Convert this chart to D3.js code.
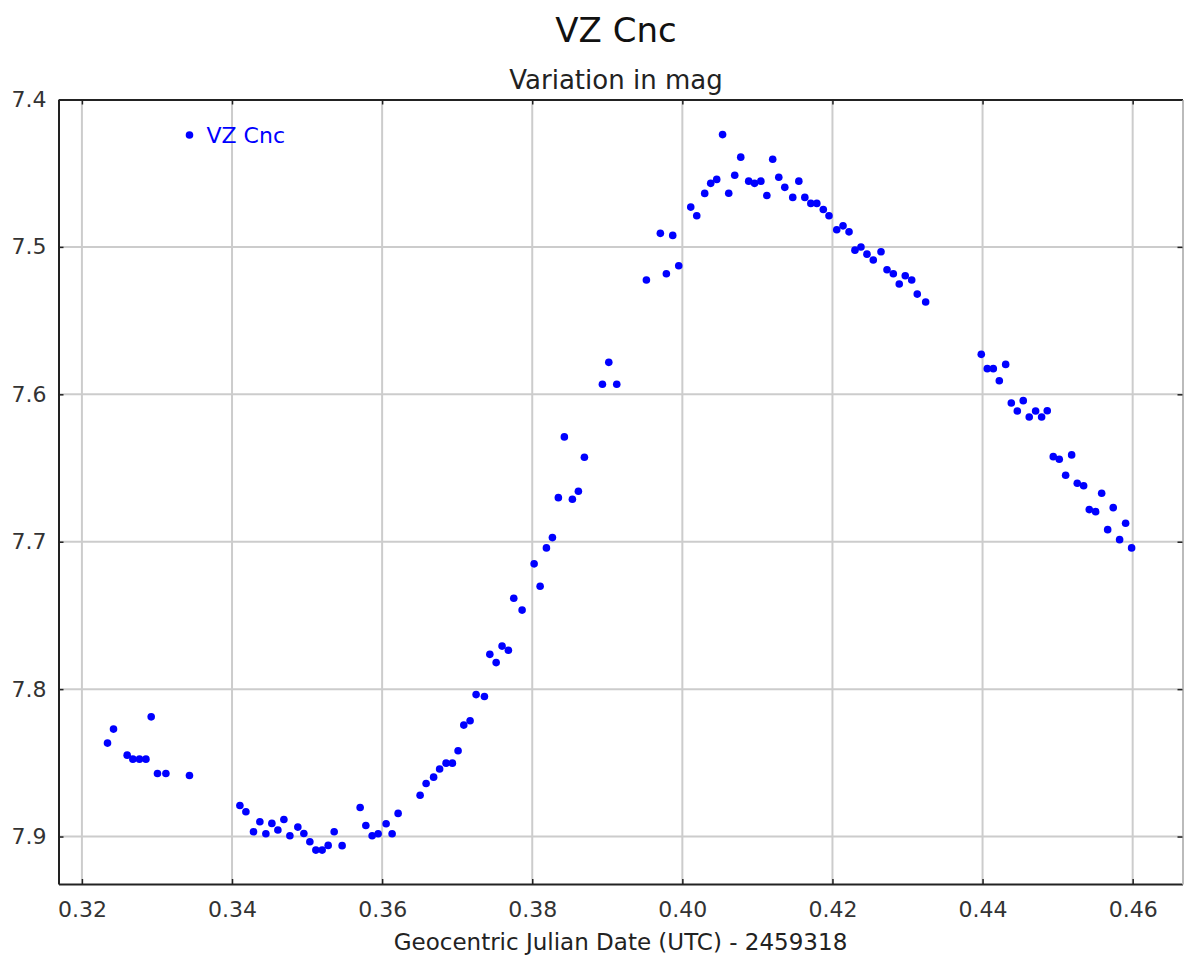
<!DOCTYPE html>
<html>
<head>
<meta charset="utf-8">
<script src="https://cdn.jsdelivr.net/npm/d3@7"></script>
<style>
	body { margin: 0; background: #fff; }
	svg { display: block; font-family: "DejaVu Sans", sans-serif; }
	.grid line { stroke: #cccccc; stroke-width: 2px; }
	.axis path, .axis line { stroke: #222; }
	.axis path { stroke-width: 2px; }
	.axis line { stroke-width: 1.5px; }
	.axis text { fill: #333; font-size: 22px; font-family: "DejaVu Sans", sans-serif; }
	.axis.right path { stroke: #bbbbbb; }
</style>
</head>
<body>
<div id="chart"></div>
<script>
var jd = [
	0.32341, 0.32421, 0.32603, 0.32679, 0.32767, 0.32853, 0.32923, 0.33007, 0.33119, 0.33433,
	0.34105, 0.34185, 0.34286, 0.34371, 0.34451, 0.34531, 0.34611, 0.34691, 0.34771, 0.34877,
	0.34957, 0.35037, 0.35117, 0.35201, 0.35281, 0.35361, 0.35467, 0.35707, 0.35783, 0.35867,
	0.35947, 0.36053, 0.36133, 0.36213, 0.36506, 0.36586, 0.36686, 0.36766, 0.36852, 0.36936,
	0.37012, 0.37088, 0.37172, 0.37252, 0.37363, 0.37435, 0.37519, 0.37598, 0.37682, 0.37754,
	0.37865, 0.38025, 0.38105, 0.38189, 0.38269, 0.38348, 0.38428, 0.38535, 0.38615, 0.38695,
	0.38935, 0.39020, 0.39126, 0.39521, 0.39707, 0.39787, 0.39872, 0.39952, 0.40112, 0.40192,
	0.40298, 0.40378, 0.40458, 0.40536, 0.40618, 0.40698, 0.40778, 0.40884, 0.40962, 0.41046,
	0.41126, 0.41204, 0.41285, 0.41365, 0.41471, 0.41552, 0.41632, 0.41712, 0.41792, 0.41878,
	0.41954, 0.42057, 0.42141, 0.42221, 0.42300, 0.42380, 0.42460, 0.42544, 0.42647, 0.42727,
	0.42811, 0.42890, 0.42970, 0.43056, 0.43130, 0.43242, 0.43983, 0.44063, 0.44143, 0.44223,
	0.44308, 0.44383, 0.44463, 0.44542, 0.44622, 0.44707, 0.44787, 0.44862, 0.44942, 0.45022,
	0.45107, 0.45187, 0.45262, 0.45347, 0.45422, 0.45507, 0.45587, 0.45667, 0.45741, 0.45826,
	0.45906, 0.45986
];
var mag = [
	7.8366, 7.8271, 7.8448, 7.8475, 7.8475, 7.8475, 7.8188, 7.8572, 7.8572, 7.8586,
	7.8789, 7.8832, 7.8968, 7.8900, 7.8981, 7.8911, 7.8956, 7.8884, 7.8995, 7.8936,
	7.8979, 7.9035, 7.9092, 7.9092, 7.9060, 7.8968, 7.9062, 7.8803, 7.8925, 7.8995,
	7.8981, 7.8913, 7.8981, 7.8843, 7.8720, 7.8640, 7.8597, 7.8542, 7.8502, 7.8502,
	7.8418, 7.8244, 7.8215, 7.8037, 7.8050, 7.7764, 7.7820, 7.7708, 7.7736, 7.7383,
	7.7464, 7.7150, 7.7302, 7.7042, 7.6972, 7.6701, 7.6289, 7.6712, 7.6658, 7.6427,
	7.5932, 7.5783, 7.5932, 7.5225, 7.4908, 7.5182, 7.4922, 7.5128, 7.4730, 7.4789,
	7.4637, 7.4569, 7.4542, 7.4238, 7.4636, 7.4514, 7.4391, 7.4554, 7.4569, 7.4554,
	7.4651, 7.4405, 7.4527, 7.4596, 7.4664, 7.4554, 7.4664, 7.4705, 7.4705, 7.4746,
	7.4789, 7.4884, 7.4857, 7.4898, 7.5022, 7.5001, 7.5049, 7.5089, 7.5033, 7.5155,
	7.5182, 7.5252, 7.5196, 7.5225, 7.5320, 7.5374, 7.5729, 7.5826, 7.5826, 7.5908,
	7.5797, 7.6059, 7.6113, 7.6043, 7.6154, 7.6113, 7.6154, 7.6111, 7.6423, 7.6441,
	7.6549, 7.6411, 7.6603, 7.6620, 7.6782, 7.6796, 7.6671, 7.6918, 7.6769, 7.6986,
	7.6875, 7.7042
];

var xTicks = [0.32, 0.34, 0.36, 0.38, 0.40, 0.42, 0.44, 0.46];
var yTicks = [7.4, 7.5, 7.6, 7.7, 7.8, 7.9];

var title = "VZ Cnc";
var subtitle = "Variation in mag";
var xLabel = "Geocentric Julian Date (UTC) - 2459318";
var seriesName = "VZ Cnc";

var width = 1184, height = 956;
var margin = {top: 99.5, right: 1.5, bottom: 72, left: 58.5};
var iw = width - margin.left - margin.right,
	ih = height - margin.top - margin.bottom;

var svg = d3.select('#chart')
	.append('svg')
	.attr('width', width)
	.attr('height', height);

var x = d3.scaleLinear()
	.domain([0.31688, 0.46664])
	.range([0, iw]);
var y = d3.scaleLinear()
	.domain([7.4, 7.9322])
	.range([0, ih]);

var g = svg.append('g')
	.attr('transform', 'translate(' + margin.left + ',' + margin.top + ')');

// grid
var grid = g.append('g').attr('class', 'grid');
grid.selectAll('line.vx')
	.data(xTicks)
	.enter()
	.append('line')
	.attr('class', 'vx')
	.attr('x1', function(d){ return x(d); })
	.attr('x2', function(d){ return x(d); })
	.attr('y1', 0)
	.attr('y2', ih);
grid.selectAll('line.hy')
	.data(yTicks.slice(1))
	.enter()
	.append('line')
	.attr('class', 'hy')
	.attr('x1', 0)
	.attr('x2', iw)
	.attr('y1', function(d){ return y(d); })
	.attr('y2', function(d){ return y(d); });

// axes, ticks point inward
g.append('g')
	.attr('class', 'axis')
	.attr('transform', 'translate(0,' + ih + ')')
	.call(d3.axisBottom(x).tickValues(xTicks).tickFormat(d3.format('.2f'))
		.tickSizeInner(-5).tickSizeOuter(0).tickPadding(17));
g.append('g')
	.attr('class', 'axis')
	.call(d3.axisTop(x).tickValues(xTicks).tickFormat('')
		.tickSizeInner(-5).tickSizeOuter(0));
g.append('g')
	.attr('class', 'axis')
	.call(d3.axisLeft(y).tickValues(yTicks).tickFormat(d3.format('.1f'))
		.tickSizeInner(-5).tickSizeOuter(0).tickPadding(12));
g.append('g')
	.attr('class', 'axis right')
	.attr('transform', 'translate(' + iw + ',0)')
	.call(d3.axisRight(y).tickValues(yTicks).tickFormat('')
		.tickSizeInner(-5).tickSizeOuter(0));

// points
g.append('g')
	.selectAll('circle')
	.data(d3.range(jd.length))
	.enter()
	.append('circle')
	.attr('cx', function(i){ return x(jd[i]); })
	.attr('cy', function(i){ return y(mag[i]); })
	.attr('r', 3.8)
	.attr('fill', '#0000ff');

// legend
var leg = g.append('g')
	.attr('transform', 'translate(' + (189.5 - margin.left) + ',' + (135 - margin.top) + ')');
leg.append('circle')
	.attr('r', 3.8)
	.attr('fill', '#0000ff');
leg.append('text')
	.attr('x', 17)
	.attr('y', 8)
	.attr('fill', '#0000ff')
	.style('font-size', '22px')
	.text(seriesName);

// titles
svg.append('text')
	.attr('x', 616)
	.attr('y', 42)
	.attr('text-anchor', 'middle')
	.attr('fill', '#111')
	.style('font-size', '34px')
	.text(title);
svg.append('text')
	.attr('x', 616)
	.attr('y', 89)
	.attr('text-anchor', 'middle')
	.attr('fill', '#222')
	.style('font-size', '26px')
	.text(subtitle);
svg.append('text')
	.attr('x', margin.left + iw / 2)
	.attr('y', 950)
	.attr('text-anchor', 'middle')
	.attr('fill', '#222')
	.style('font-size', '23px')
	.text(xLabel);
</script>
</body>
</html>
